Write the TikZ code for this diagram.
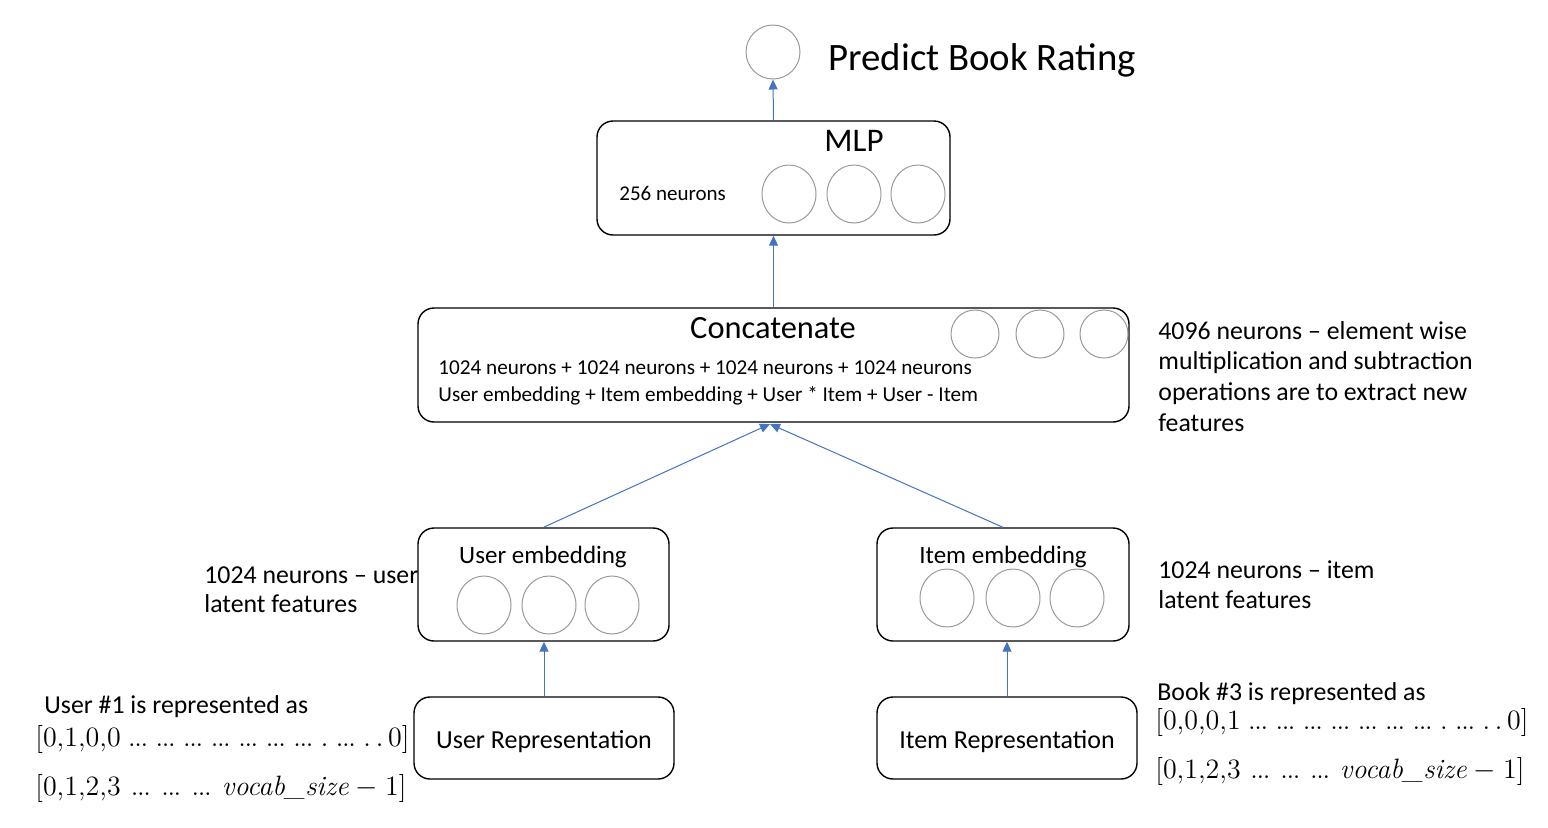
\documentclass[tikz,border=0pt]{standalone}
\usepackage{fontspec}
\setmainfont{Carlito}
\newfontfamily\lmr{Latin Modern Roman}
\usetikzlibrary{arrows.meta,shapes.geometric}
\definecolor{arrblue}{HTML}{4472C4}
\definecolor{neurgray}{HTML}{9A9A9A}
\newcommand\dts{.\kern-0.05em.\kern-0.05em.}
\newcommand\gp{\hskip 0.2em plus 1em minus 0.1em\relax}
\tikzset{
  box/.style={draw=black,line width=0.7pt,rounded corners=8pt,fill=white,inner sep=0pt},
  neuron/.style={draw=neurgray,line width=0.5pt,ellipse,inner sep=0pt,fill=white},
  arr/.style={draw=arrblue,line width=0.5pt,-{Triangle[width=4.5pt,length=5pt]}},
  lbl/.style={anchor=mid west,inner sep=0pt},
  ctr/.style={anchor=mid,inner sep=0pt},
  side/.style={lbl,font=\fontsize{12.9}{15}\selectfont},
  vec/.style={lbl,font=\lmr\fontsize{14}{16}\selectfont},
}
\begin{document}
\begin{tikzpicture}[x=0.5pt,y=-0.5pt]
\useasboundingbox (0,0) rectangle (1548,827);
% side labels drawn first (box covers the end of "user")
\node[side] (ul1) at (204,579) {1024 neurons – user};
\node[side] (ul2) at (204,608) {latent features};
\node[side] (il1) at (1158,574) {1024 neurons – item};
\node[side] (il2) at (1158,604) {latent features};
\node[side] (c1) at (1158,335) {4096 neurons – element wise};
\node[side] (c2) at (1158,365) {multiplication and subtraction};
\node[side] (c3) at (1158,396) {operations are to extract new};
\node[side] (c4) at (1158,427) {features};
\node[side] (u1) at (44,709) {User \#1 is represented as};
\node[vec] (u2) at (35,742) {\makebox[187pt][s]{[0,1,0,0\gp\dts\gp\dts\gp\dts\gp\dts\gp\dts\gp\dts\gp\dts\gp.\gp\dts\gp.\,.\,0]}};
\node[vec] (u3) at (35,791) {\makebox[185.5pt][s]{[0,1,2,3\gp\dts\gp\dts\gp\dts\gp{\itshape vocab\_size}\kern.25em$-$\kern.25em1]}};
\node[side] (b1) at (1157,696) {Book \#3 is represented as};
\node[vec] (b2) at (1155,725) {\makebox[186.5pt][s]{[0,0,0,1\gp\dts\gp\dts\gp\dts\gp\dts\gp\dts\gp\dts\gp\dts\gp.\gp\dts\gp.\,.\,0]}};
\node[vec] (b3) at (1155,774) {\makebox[184.5pt][s]{[0,1,2,3\gp\dts\gp\dts\gp\dts\gp{\itshape vocab\_size}\kern.25em$-$\kern.25em1]}};
% boxes
\node[box,minimum width=176.5pt,minimum height=57pt] (mlp) at (773.5,178) {};
\node[box,minimum width=355.5pt,minimum height=57pt] (cat) at (773.5,365) {};
\node[box,minimum width=125.5pt,minimum height=56.5pt] (uemb) at (543.5,584.5) {};
\node[box,minimum width=126pt,minimum height=56.5pt] (iemb) at (1003,584.5) {};
\node[box,minimum width=130pt,minimum height=41pt] (urep) at (544,738) {};
\node[box,minimum width=130pt,minimum height=41pt] (irep) at (1007,738) {};
\node[ctr,font=\fontsize{13}{15}\selectfont] (ureplbl) at (544,744) {User Representation};
\node[ctr,font=\fontsize{13}{15}\selectfont] (ireplbl) at (1007,744) {Item Representation};
% output
\node[neuron,circle,minimum size=27pt] (out) at (773,52) {};
\node[lbl,font=\fontsize{19.4}{22}\selectfont] (pred) at (828,66) {Predict Book Rating};
% MLP content
\node[ctr,font=\fontsize{16.5}{20}\selectfont] (mlpt) at (854,147) {MLP};
\node[lbl,font=\fontsize{10.5}{12}\selectfont] (n256) at (619,196) {256 neurons};
\node[neuron,minimum width=27pt,minimum height=29pt] (m1) at (789,194) {};
\node[neuron,minimum width=27pt,minimum height=29pt] (m2) at (854,194) {};
\node[neuron,minimum width=27pt,minimum height=29pt] (m3) at (918,194) {};
% Concatenate content
\node[ctr,font=\fontsize{16.2}{20}\selectfont] (catt) at (773,334) {Concatenate};
\node[lbl,font=\fontsize{10.6}{12}\selectfont] (cl1) at (438,370) {1024 neurons + 1024 neurons + 1024 neurons + 1024 neurons};
\node[lbl,font=\fontsize{10.6}{12}\selectfont] (cl2) at (438,397) {User embedding + Item embedding + User * Item + User - Item};
\node[neuron,minimum width=24pt,minimum height=24pt] (k1) at (975,334) {};
\node[neuron,minimum width=24pt,minimum height=24pt] (k2) at (1040,334) {};
\node[neuron,minimum width=24pt,minimum height=24pt] (k3) at (1104,334) {};
% embeddings content
\node[ctr,font=\fontsize{12.5}{15}\selectfont] (uembt) at (543,559) {User embedding};
\node[neuron,minimum width=27pt,minimum height=29pt] (e1) at (484,605) {};
\node[neuron,minimum width=27pt,minimum height=29pt] (e2) at (549,605) {};
\node[neuron,minimum width=27pt,minimum height=29pt] (e3) at (612,605) {};
\node[ctr,font=\fontsize{12.5}{15}\selectfont] (iembt) at (1003,559) {Item embedding};
\node[neuron,minimum width=27pt,minimum height=29pt] (f1) at (947,598) {};
\node[neuron,minimum width=27pt,minimum height=29pt] (f2) at (1013,598) {};
\node[neuron,minimum width=27pt,minimum height=29pt] (f3) at (1077,598) {};
% connectors
\coordinate (catin) at (770,424);
\draw[arr] (urep.north) -- (urep.north |- uemb.south);
\draw[arr] (irep.north) -- (irep.north |- iemb.south);
\draw[arr] (uemb.north) -- (catin);
\draw[arr] (iemb.north) -- (catin);
\draw[arr] (cat.north) -- (mlp.south);
\draw[arr] (mlp.north) -- (out.south);
\end{tikzpicture}
\end{document}
